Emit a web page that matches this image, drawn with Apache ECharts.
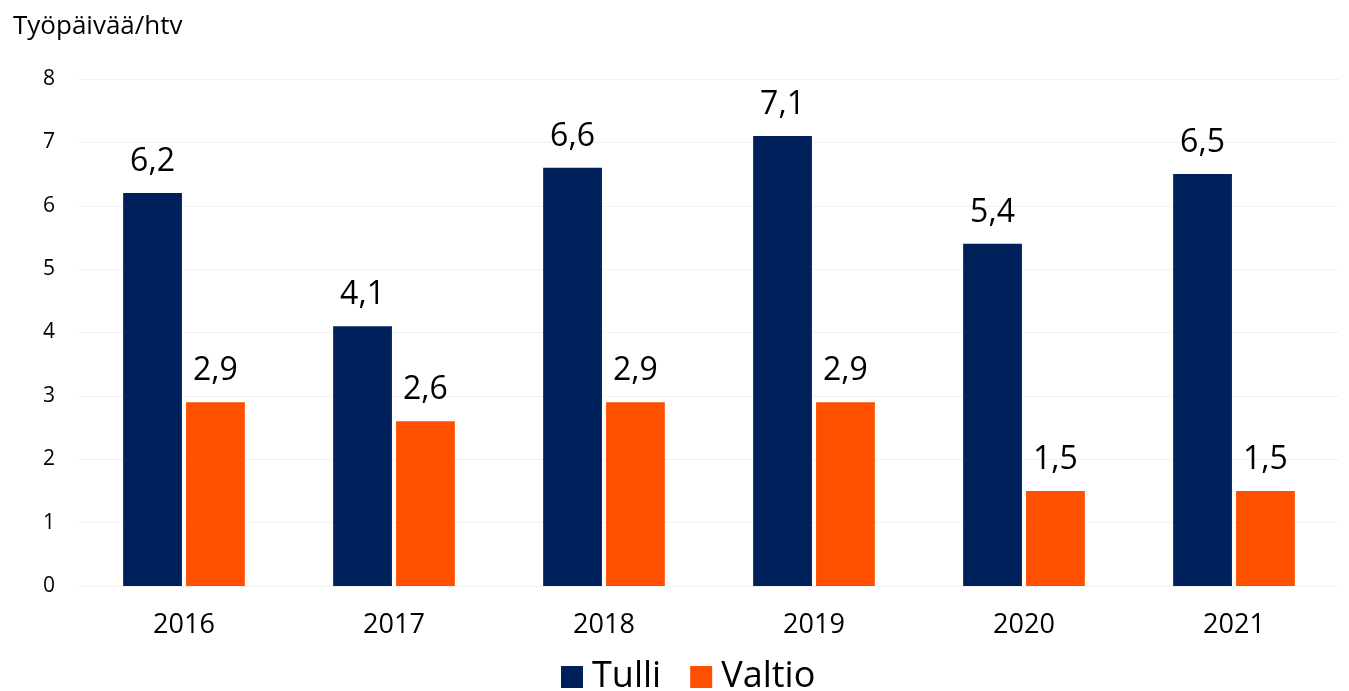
<!DOCTYPE html>
<html>
<head>
<meta charset="utf-8">
<script src="https://cdn.jsdelivr.net/npm/echarts@6/dist/echarts.min.js"></script>
<style>
  html, body { margin: 0; padding: 0; background: #fff; }
  #chart { width: 1349px; height: 691px; }
</style>
</head>
<body>
<div id="chart"></div>
<script>
const years = ['2016', '2017', '2018', '2019', '2020', '2021'];
const tulli = [6.2, 4.1, 6.6, 7.1, 5.4, 6.5];
const valtio = [2.9, 2.6, 2.9, 2.9, 1.5, 1.5];
const yTicks = [0, 1, 2, 3, 4, 5, 6, 7, 8];

const font = '"Open Sans", "Noto Sans", sans-serif';
const chart = echarts.init(document.getElementById('chart'), null, { renderer: 'canvas' });

const label = {
  show: true,
  position: 'top',
  distance: 15,
  color: '#000',
  fontSize: 32,
  fontFamily: font,
  formatter: p => String(p.value).replace('.', ',')
};

chart.setOption({
  animation: false,
  textStyle: { fontFamily: font },
  title: {
    text: 'Työpäivää/htv',
    left: 8,
    top: 9,
    textStyle: { fontSize: 26, fontWeight: 'normal', color: '#000', fontFamily: font }
  },
  legend: {
    bottom: -9,
    left: 556,
    itemWidth: 22,
    itemHeight: 22,
    itemGap: 29,
    icon: 'rect',
    textStyle: { fontSize: 36, color: '#000', fontFamily: font, padding: [0, 0, 0, 4] },
    data: ['Tulli', 'Valtio']
  },
  grid: { left: 79, right: 10, top: 79, bottom: 105 },
  xAxis: {
    type: 'category',
    data: years,
    axisLine: { show: false },
    axisTick: { show: false },
    axisLabel: { fontSize: 27, color: '#000', margin: 26, fontFamily: font }
  },
  yAxis: {
    type: 'value',
    min: yTicks[0],
    max: yTicks[yTicks.length - 1],
    interval: 1,
    axisLine: { show: false },
    axisTick: { show: false },
    axisLabel: { fontSize: 21, color: '#000', margin: 24, fontFamily: font },
    splitLine: { lineStyle: { color: '#f2f2f2', width: 1 } }
  },
  series: [
    {
      name: 'Tulli',
      type: 'bar',
      data: tulli,
      barWidth: '28%',
      barGap: '7%',
      itemStyle: { color: '#00205B' },
      label: label
    },
    {
      name: 'Valtio',
      type: 'bar',
      data: valtio,
      barWidth: '28%',
      itemStyle: { color: '#FF5000' },
      label: label
    }
  ]
});
</script>
</body>
</html>
